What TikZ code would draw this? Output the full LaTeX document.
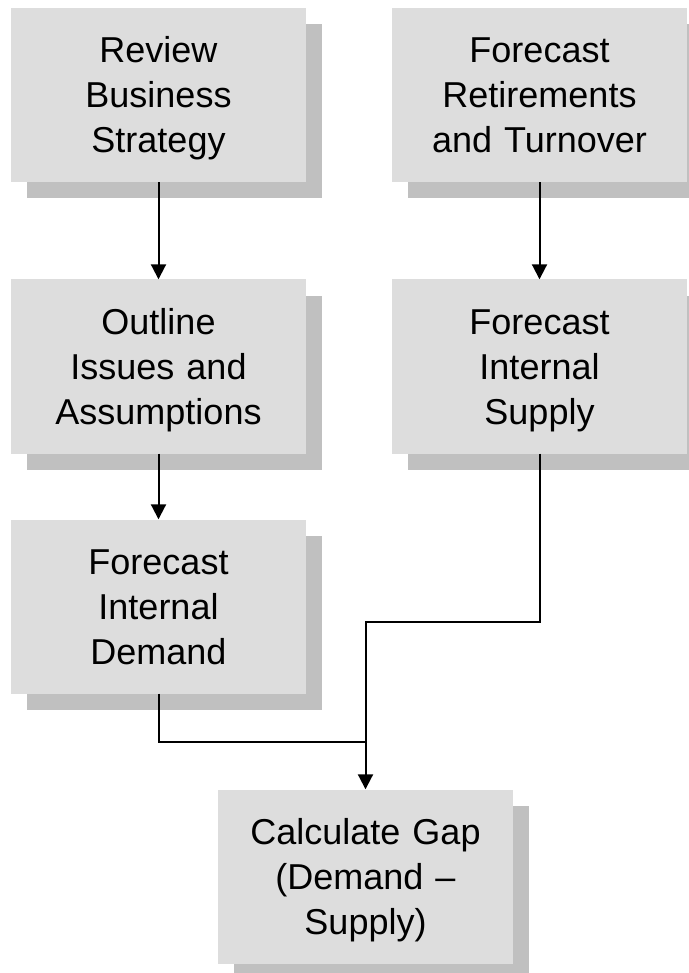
\documentclass[tikz,border=0pt]{standalone}
\usepackage{fontspec}
\setmainfont{Liberation Sans}
\usetikzlibrary{shadows,arrows.meta}
\definecolor{boxfill}{RGB}{221,221,221}
\definecolor{shadowc}{RGB}{192,192,192}
\newcommand\mytop{\rule{0pt}{36pt}}
\newcommand\mybot{\rule[-10pt]{0pt}{10pt}}
\begin{document}
\begin{tikzpicture}[x=1pt,y=1pt,
  stepbox/.style={rectangle, fill=boxfill, minimum width=295pt, minimum height=174pt,
    text width=285pt, align=center, inner sep=0pt,
    font=\fontsize{36}{45}\selectfont,
    execute at begin node=\mytop, execute at end node=\mybot,
    drop shadow={shadow xshift=16pt, shadow yshift=-16pt, fill=shadowc, opacity=1}},
  ln/.style={line width=2pt},
  arr/.style={line width=2pt, -{Triangle[width=15pt,length=15pt]}}]
\useasboundingbox (0,0) rectangle (688,-973);
\node[stepbox] (b1) at (158.5,-95) {Review\\Business\\Strategy};
\node[stepbox] (b2) at (539.5,-95) {Forecast\\Retirements\\and Turnover};
\node[stepbox] (b3) at (158.5,-366.5) {Outline\\Issues and\\Assumptions};
\node[stepbox] (b4) at (539.5,-366.5) {Forecast\\Internal\\Supply};
\node[stepbox] (b5) at (158.5,-606.5) {Forecast\\Internal\\Demand};
\node[stepbox] (b6) at (365.5,-876.5) {Calculate Gap\\(Demand –\\Supply)};
\coordinate (j1) at (365.5,-742);
\coordinate (j2) at (365.5,-622);
\draw[arr] (b1.south) -- (b3.north);
\draw[arr] (b2.south) -- (b4.north);
\draw[arr] (b3.south) -- (b5.north);
\draw[ln] (b5.south) |- (j1);
\draw[arr] (b4.south) |- (j2) -- (b6.north);
\end{tikzpicture}
\end{document}
